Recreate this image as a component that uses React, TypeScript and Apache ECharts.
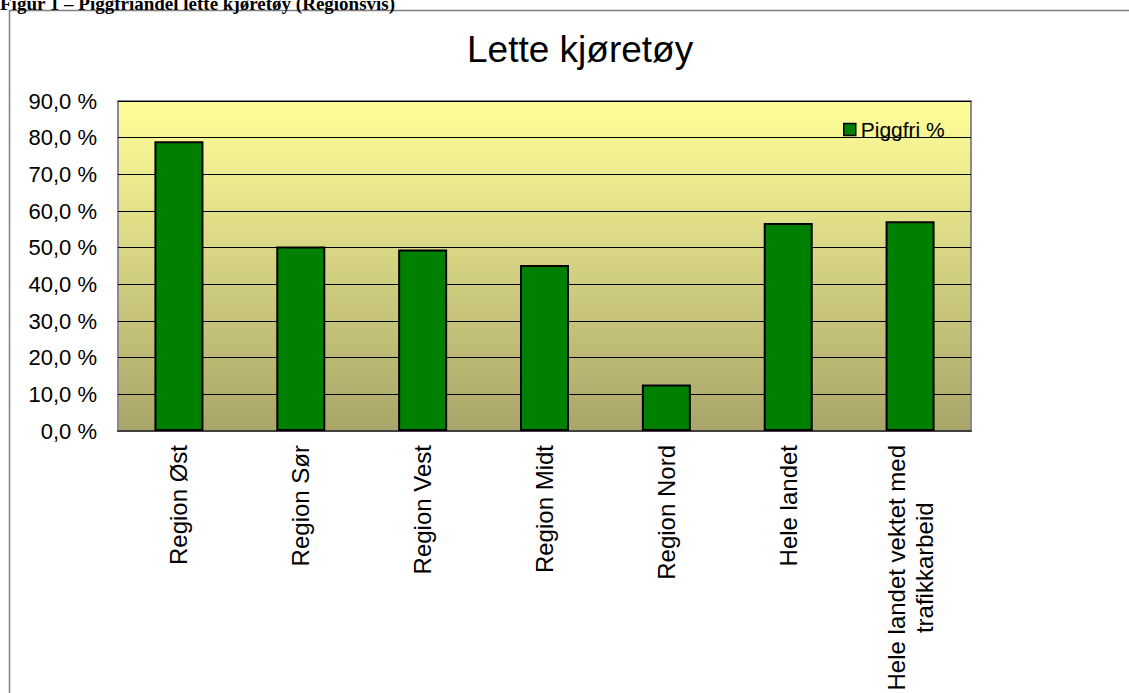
import React, { useEffect, useRef } from "react";
import * as echarts from "echarts";

const categories = [
  "Region Øst",
  "Region Sør",
  "Region Vest",
  "Region Midt",
  "Region Nord",
  "Hele landet",
  "Hele landet vektet med\ntrafikkarbeid",
];
const piggfri = [79.0, 50.3, 49.5, 45.3, 12.7, 56.7, 57.2];
const seriesName = "Piggfri %";
const chartTitle = "Lette kjøretøy";
const caption = "Figur 1 – Piggfriandel lette kjøretøy (Regionsvis)";
const yMin = 0;
const yMax = 90;
const yStep = 10;

const SANS = "'Liberation Sans', Arial, sans-serif";

export default function App() {
  const ref = useRef<HTMLDivElement>(null);
  useEffect(() => {
    if (!ref.current) return;
    const chart = echarts.init(ref.current, undefined, { renderer: "svg" });
    chart.setOption({
      animation: false,
      backgroundColor: "#ffffff",
      title: {
        text: chartTitle,
        left: 462,
        top: 26,
        textStyle: { fontFamily: SANS, fontSize: 37, fontWeight: "normal", color: "#000" },
      },
      legend: {
        data: [seriesName],
        left: 838,
        top: 114,
        icon: "rect",
        itemWidth: 12,
        itemHeight: 12,
        textStyle: { fontFamily: SANS, fontSize: 21, color: "#000" },
        itemStyle: { borderColor: "#000", borderWidth: 1.5 },
      },
      grid: {
        left: 118,
        top: 101,
        width: 853,
        height: 330,
        outerBoundsMode: "none",
        containLabel: false,
        show: true,
        borderColor: "#8a8a8a",
        borderWidth: 2,
        backgroundColor: new echarts.graphic.LinearGradient(0, 0, 0, 1, [
          { offset: 0, color: "#FFFF99" },
          { offset: 1, color: "#A9A56A" },
        ]),
      },
      xAxis: {
        type: "category",
        data: categories,
        axisLine: { show: true, lineStyle: { color: "#404040", width: 2 } },
        axisTick: { show: false },
        axisLabel: {
          interval: 0,
          rotate: 90,
          margin: 14,
          color: "#000",
          fontFamily: SANS,
          fontSize: 24.5,
          lineHeight: 28,
          formatter: (v: string) => v.split("\n").map((l) => `{c|${l}}`).join("\n"),
          rich: { c: { align: "center", fontFamily: SANS, fontSize: 24, lineHeight: 28, color: "#000" } },
        },
      },
      yAxis: {
        type: "value",
        min: yMin,
        max: yMax,
        interval: yStep,
        axisLine: { show: false },
        axisTick: { show: false },
        splitLine: { show: true, lineStyle: { color: "#000", width: 1 } },
        axisLabel: {
          margin: 21,
          color: "#000",
          fontFamily: SANS,
          fontSize: 22,
          formatter: (v: number) => v.toFixed(1).replace(".", ",") + " %",
        },
      },
      series: [
        {
          name: seriesName,
          type: "bar",
          data: piggfri,
          barWidth: 49,
          itemStyle: { color: "#008000", borderColor: "#000", borderWidth: 2 },
        },
      ],
      graphic: [
        {
          type: "rect",
          shape: { x: 9.5, y: 10.5, width: 1300, height: 900 },
          style: { fill: "none", stroke: "#808080", lineWidth: 1.5 },
          silent: true,
        },
        {
          type: "text",
          x: 0,
          y: 13,
          style: {
            text: caption,
            fill: "#000",
            font: "bold 19px 'Liberation Serif', 'Times New Roman', serif",
            verticalAlign: "bottom",
            align: "left",
          },
          silent: true,
        },
      ],
    });
    return () => chart.dispose();
  }, []);
  return (
    <div
      ref={ref}
      style={{ position: "fixed", left: 0, top: 0, width: 1129, height: 693 }}
    />
  );
}
